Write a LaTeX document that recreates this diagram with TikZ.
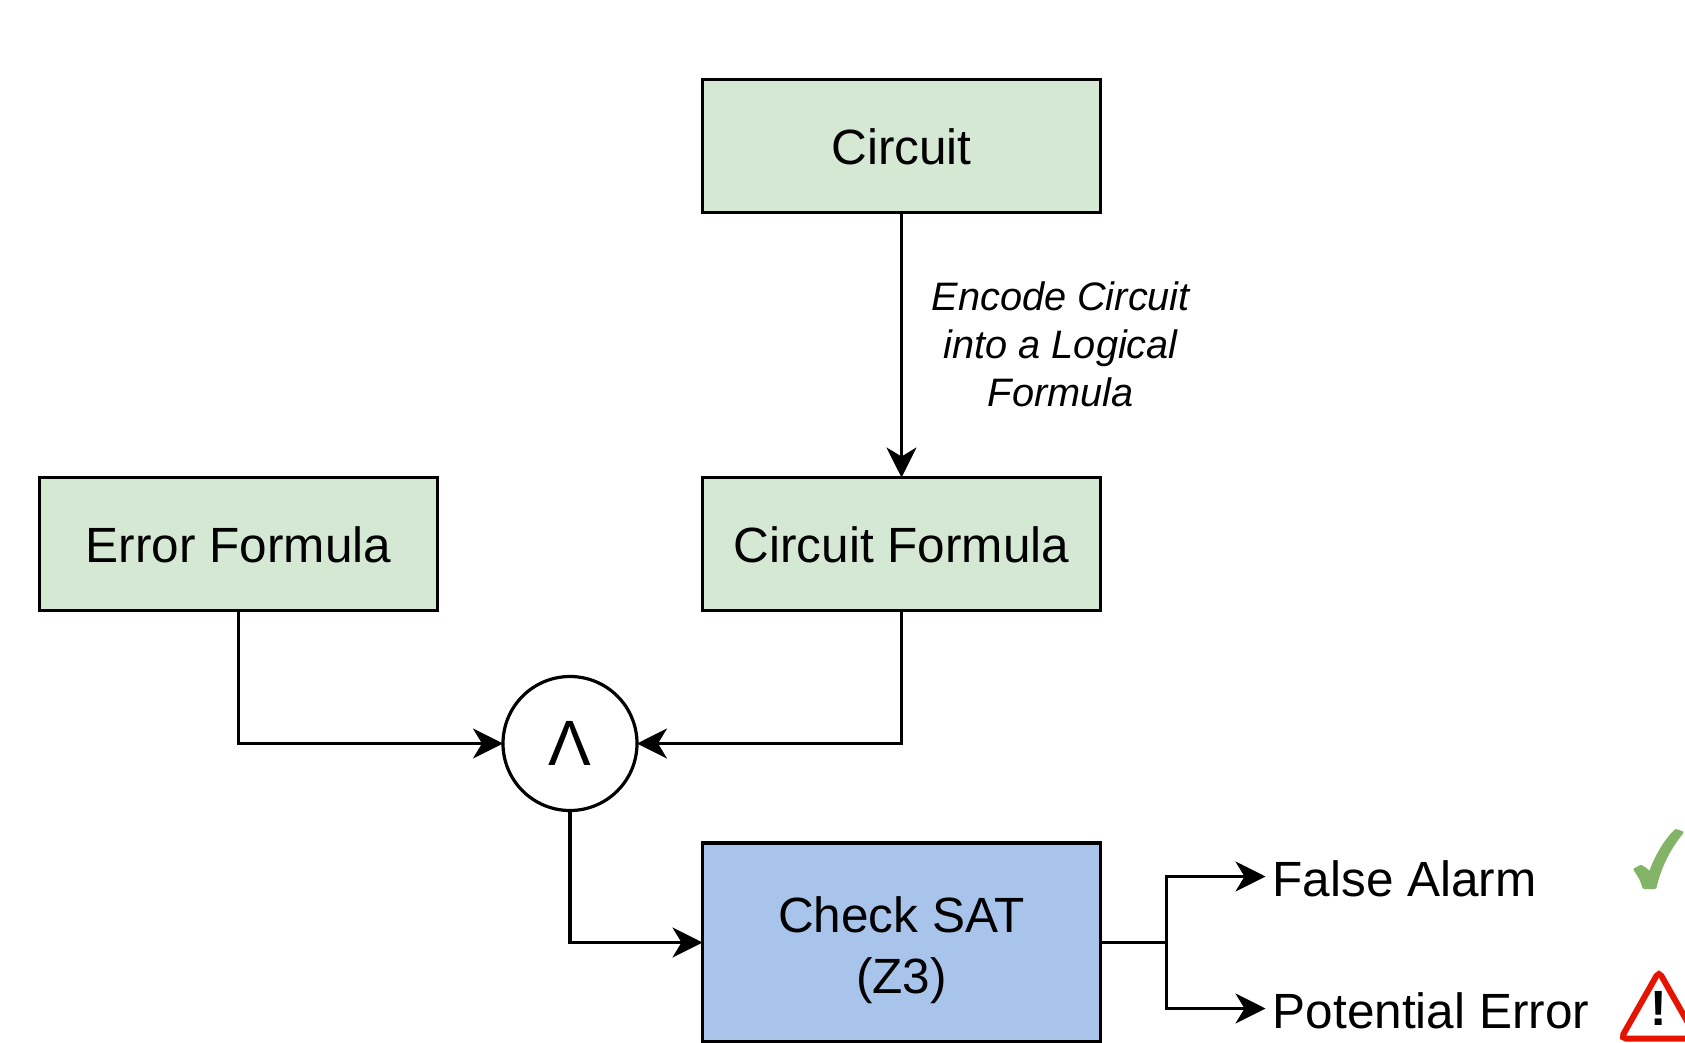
\documentclass[tikz,border=0pt]{standalone}
\usepackage{fontspec}
\usepackage{xcolor}
\setmainfont{Liberation Sans}
\usetikzlibrary{positioning,calc,arrows.meta}
\definecolor{cellgreen}{HTML}{D5E8D4}
\definecolor{cellblue}{HTML}{A9C4EB}
\definecolor{checkgreen}{HTML}{82B366}
\definecolor{warnred}{HTML}{E51400}
\newcommand{\bigfont}{\fontsize{49.5}{61}\selectfont}
\newcommand{\smallfont}{\fontsize{39.7}{48}\selectfont}

\begin{document}
\begin{tikzpicture}
[
cell-a/.style={rectangle, draw, line width = 3.2pt, fill = cellgreen, minimum width = 398pt, minimum height = 133pt, inner sep = 0pt, outer sep = 0pt, font = \bigfont, text height = 38pt},
cell-b/.style={rectangle, draw, line width = 3.2pt, fill = cellblue, minimum width = 398pt, minimum height = 199pt, inner sep = 0pt, outer sep = 0pt, font = \bigfont, align = center},
cell-c/.style={circle, draw, line width = 3.2pt, fill = white, minimum size = 134pt, inner sep = 0pt, outer sep = 0pt, font = \fontsize{64}{64}\selectfont},
text-a/.style={black, font = \bigfont, inner sep = 7pt, text height = 40pt, text depth = 0pt},
text-b/.style={black, font = \smallfont\itshape, align = center, inner sep = 0pt},
line-a/.style={line width = 3.2pt},
line-b/.style={line-a, -{Stealth[length = 30pt, width = 30pt, inset = 9pt]}}
]
\useasboundingbox (0pt,0pt) rectangle (1685pt,-1043pt);
\clip (0pt,0pt) rectangle (1685pt,-1043pt);
\node (circuit)  [cell-a] at (901.5pt,-146pt)                    {Circuit};
\node (formula)  [cell-a, below = 265pt of circuit]              {Circuit Formula};
\node (error)    [cell-a, left  = 265pt of formula]              {Error Formula};
\node (encode)   [text-b, yshift = 1pt, right = 30pt of $(circuit)!.5!(formula)$] {Encode Circuit\\into a Logical\\Formula};
\node (and)      [cell-c, below = 66pt of $(error.south)!.5!(formula.south)$] {Λ};
\node (sat)      [cell-b, below = 232.5pt of formula]            {\rule{0pt}{52pt}Check SAT\\(Z3)};
\coordinate [right = 66pt of sat.east] (fork);
\coordinate [above = 66pt of fork]     (fork-a);
\coordinate [below = 66pt of fork]     (fork-b);
\node (false)    [text-a, right = 99pt of fork-a]                {False Alarm};
\node (potential)[text-a, right = 99pt of fork-b]                {Potential Error};
% check mark and warning sign
\coordinate [above right = 15pt and 115pt of false.east] (check-c);
\begin{scope}[shift = {(check-c)}, x = 1pt, y = 1pt]
\filldraw [checkgreen, line width = 3pt, line join = round] (-24,-8) -- (-18,-5) .. controls (-14,-7) .. (-9,-12) .. controls (-3,5) and (7,22) .. (17,31) -- (23,29) .. controls (9,12) and (0,-8) .. (-4,-26) -- (-15,-26) .. controls (-18,-17) .. cycle;
\end{scope}
\coordinate [right = 228pt of potential.center] (warn-c);
\draw [warnred, line width = 6pt, rounded corners = 5pt] ($(warn-c)+(0pt,37pt)$) -- ($(warn-c)+(38pt,-30pt)$) -- ($(warn-c)+(-38pt,-30pt)$) -- cycle;
\node (warn)     [inner sep = 0pt, font = \bigfont\bfseries] at (warn-c) {!};
\draw [line-b] (circuit) -- (formula);
\draw [line-b] (error.south) |- (and.west);
\draw [line-b] (formula.south) |- (and.east);
\draw [line-b] (and.south) |- (sat.west);
\draw [line-a] (sat.east) -- (fork);
\draw [line-b] (fork) |- (false.west);
\draw [line-b] (fork) |- (potential.west);
\end{tikzpicture}
\end{document}
